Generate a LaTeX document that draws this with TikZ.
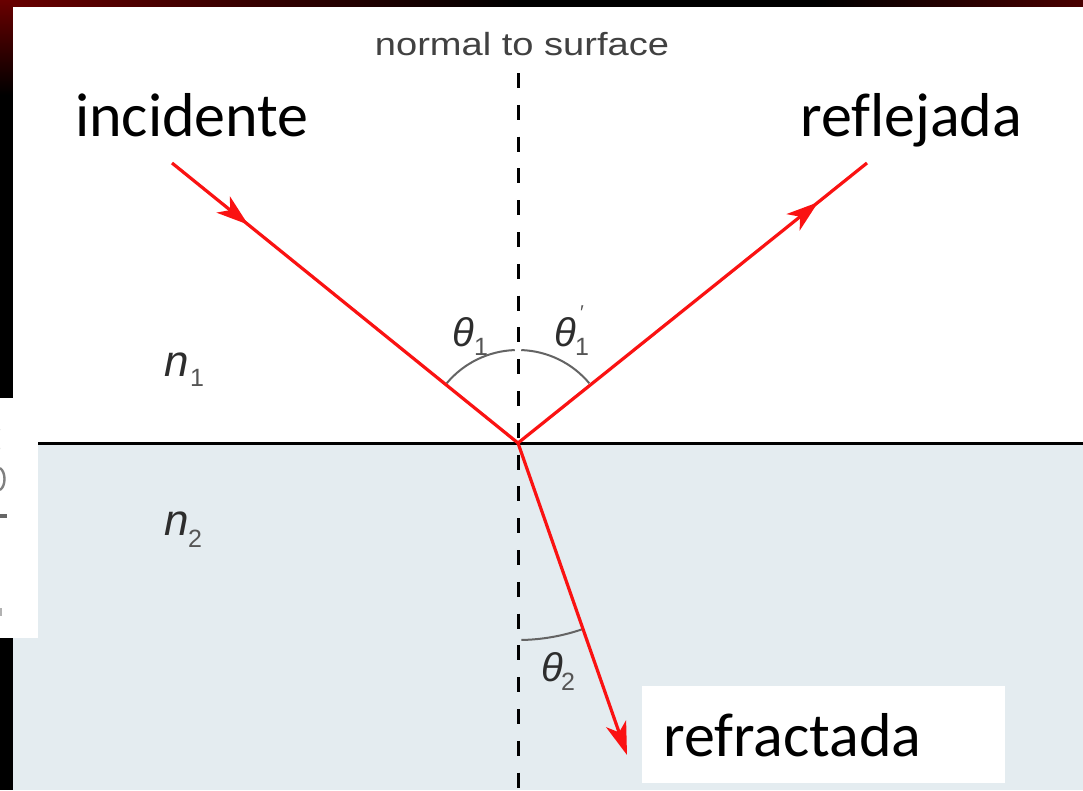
\documentclass[tikz,border=0pt]{standalone}
\usepackage{graphicx}
\usepackage{fontspec}
\setmainfont[Ligatures=NoCommon]{Carlito}
\newfontfamily\arialf{Liberation Sans}
\usetikzlibrary{arrows.meta,decorations.markings,calc}
\definecolor{bgred}{RGB}{105,0,0}
\definecolor{water}{RGB}{228,236,240}
\definecolor{raycol}{RGB}{250,18,18}
\definecolor{lblgray}{RGB}{45,45,45}
\definecolor{subgray}{RGB}{85,85,85}
\definecolor{arcgray}{RGB}{100,100,100}
\definecolor{normgray}{RGB}{65,65,65}
\begin{document}
\begin{tikzpicture}[x=1pt,y=-1pt,
  ray/.style={draw=raycol,line width=3.2pt},
  raytip/.style={-{Stealth[length=33pt,width=21pt,inset=9pt]}},
  midtip/.style={postaction={decorate},decoration={markings,
     mark=at position #1 with {\arrow{Stealth[length=32pt,width=21pt,inset=9pt]}}}},
  bigword/.style={font=\fontsize{62}{62}\selectfont,inner sep=0pt,anchor=base west,text=black},
  thetalbl/.style={font=\arialf\itshape\fontsize{40}{40}\selectfont,inner sep=0pt,text=lblgray},
  nlbl/.style={font=\arialf\itshape\fontsize{44}{44}\selectfont,inner sep=0pt,text=lblgray},
  sublbl/.style={font=\arialf\fontsize{25}{25}\selectfont,inner sep=0pt,text=subgray},
  anglearc/.style={draw=arcgray,line width=2pt},
  normalline/.style={draw=black,line width=3pt,dash pattern=on 15pt off 16.8pt},
]
\useasboundingbox (0,0) rectangle (1083,790);
% frame / background
\fill[black] (0,0) rectangle (1083,790);
\shade[left color=bgred,right color=black] (0,0) rectangle (520,7);
\shade[left color=black,right color=bgred!70!black] (820,0) rectangle (1083,7);
\shade[top color=bgred,bottom color=black] (0,0) rectangle (13,95);
\fill[white] (13,7) rectangle (1083,790);
\fill[water] (13,443) rectangle (1083,790);
\fill[white] (0,398) rectangle (38,638);
% partial glyph fragments at the left edge
\draw[gray,line width=2.4pt] (0,449) arc[start angle=-90,end angle=90,radius=-10];
\draw[gray,line width=2.4pt] (0,468) .. controls (6,472) and (6,486) .. (0,490);
\fill[gray!80!black] (0,514) rectangle (7,518);
\fill[gray!60] (0,608) rectangle (2,616);
% interface
\draw[black,line width=3pt] (38,443.5) -- (1083,443.5);

% key points
\coordinate (O) at (518,443);
\coordinate (inc) at (172,163);
\coordinate (refl) at (867,163);
\coordinate (refr) at (627,755);
\coordinate (ntop) at (518,73);
\coordinate (nbot) at (518,790);

% normal
\draw[normalline] (ntop) -- (nbot);
\node[font=\arialf\fontsize{32}{32}\selectfont,text=normgray,inner sep=0pt,anchor=base] (ntext) at (522,55) {\scalebox{1.19}[1]{normal to surface}};

% angle arcs
\draw[anglearc] ([shift={(-140:93)}]O) arc[start angle=-140,end angle=-92,radius=93];
\draw[anglearc] ([shift={(-88:93)}]O) arc[start angle=-88,end angle=-40,radius=93];
\draw[anglearc] ([shift={(71:197)}]O) arc[start angle=71,end angle=89,radius=197];

% rays
\draw[ray,midtip=0.22] (inc) -- (O);
\draw[ray,midtip=0.86] (O) -- (refl);
\draw[ray,raytip] (O) -- (refr);

% labels
\node[bigword] (lincid) at (75,136) {incidente};
\node[bigword] (lrefl) at (800,136) {reflejada};
\node[fill=white,inner sep=0pt,minimum width=363pt,minimum height=97pt,anchor=north west] (boxr) at (642,686) {};
\node[bigword] (lrefr) at (663,756) {refractada};

\node[thetalbl] (t1) at (463,332) {θ};
\node[sublbl] (t1s) at (481,347) {1};
\node[thetalbl] (t1p) at (565,332) {θ};
\node[sublbl] (t1ps) at (582,347) {1};
\node[font=\arialf\fontsize{20}{20}\selectfont,inner sep=0pt,text=subgray] (prime) at (582,313) {\char"2032};
\node[thetalbl] (t2) at (552,667) {θ};
\node[sublbl] (t2s) at (568,682) {2};
\node[nlbl] (n1) at (177,365) {n};
\node[sublbl] (n1s) at (197,378) {1};
\node[nlbl] (n2) at (177,524) {n};
\node[sublbl] (n2s) at (195,539) {2};
\end{tikzpicture}
\end{document}
